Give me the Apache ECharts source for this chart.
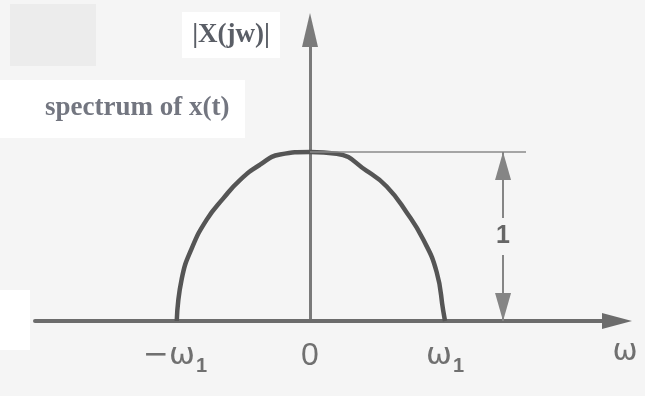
<!DOCTYPE html>
<html>
<head>
<meta charset="utf-8">
<script src="https://cdn.jsdelivr.net/npm/echarts@6/dist/echarts.min.js"></script>
<style>
  html, body { margin: 0; padding: 0; background: #f5f5f5; }
  #chart { width: 645px; height: 396px; }
</style>
</head>
<body>
<div id="chart"></div>
<script>
// Frequency axis in units of ω1, magnitude normalised to the peak value 1
const omega = [-0.987, -0.950, -0.876, -0.765, -0.644, -0.519, -0.370, -0.222, 0, 0.198, 0.420, 0.568, 0.716, 0.839, 0.938, 0.987, 1.0];
const magnitude = [0, 0.250, 0.430, 0.600, 0.724, 0.834, 0.925, 0.985, 1.0, 0.990, 0.888, 0.796, 0.642, 0.482, 0.290, 0.06, 0];

// Tick positions on the ω axis and their labels
const tickValues = [-1, 0, 1];
const tickLabels = { '-1': '{w|−ω}{s|1}', '0': '{z|0}', '1': '{w|ω}{s|1}' };

// Peak level and where its height marker stands
const peakLevel = 1;
const peakLevelLabel = '1';
const guideEnd = 1.6;
const markerAt = 1.43;

const chart = echarts.init(document.getElementById('chart'));

const labelGray = '#707070';

chart.setOption({
  backgroundColor: '#f5f5f5',
  animation: false,
  graphic: [
    { type: 'rect', shape: { x: 10, y: 4, width: 86, height: 62 }, style: { fill: '#ececec' }, z: -10 },
    { type: 'rect', shape: { x: 0, y: 80, width: 245, height: 58 }, style: { fill: '#ffffff' }, z: -10 },
    { type: 'rect', shape: { x: 182, y: 12, width: 98, height: 46 }, style: { fill: '#ffffff' }, z: -10 },
    { type: 'rect', shape: { x: 0, y: 290, width: 30, height: 60 }, style: { fill: '#ffffff' }, z: -10 }
  ],
  title: {
    text: 'spectrum of x(t)',
    left: 40,
    top: 90,
    textStyle: {
      fontFamily: 'Liberation Serif',
      fontWeight: 'bold',
      fontSize: 27,
      color: '#737680'
    }
  },
  grid: { left: 35, right: 28, top: 30, bottom: 75 },
  xAxis: {
    type: 'value',
    min: -2.037,
    max: 2.274,
    name: 'ω',
    nameLocation: 'end',
    nameGap: 8,
    nameTextStyle: {
      fontFamily: 'DejaVu Sans',
      fontSize: 30,
      color: labelGray,
      align: 'center',
      verticalAlign: 'top',
      padding: [16, 0, 0, 0]
    },
    splitLine: { show: false },
    axisTick: { show: false },
    axisLine: {
      lineStyle: { color: '#6c6c6c', width: 4 },
      symbol: ['none', 'triangle'],
      symbolSize: [16, 30]
    },
    axisLabel: {
      customValues: tickValues,
      margin: 18,
      formatter: v => tickLabels[String(v)] || '',
      rich: {
        w: { fontFamily: 'DejaVu Sans', fontSize: 31, color: labelGray, lineHeight: 34 },
        s: { fontFamily: 'Liberation Sans', fontWeight: 'bold', fontSize: 20, color: labelGray, lineHeight: 34, padding: [20, 0, 0, 1] },
        z: { fontFamily: 'Liberation Sans', fontSize: 32, color: labelGray, lineHeight: 34 }
      }
    }
  },
  yAxis: {
    type: 'value',
    min: 0,
    max: 1.722,
    name: '|X(jw)|',
    nameLocation: 'end',
    nameGap: -5,
    nameTextStyle: {
      fontFamily: 'Liberation Serif',
      fontWeight: 'bold',
      fontSize: 27,
      color: '#5a5e66',
      align: 'right',
      verticalAlign: 'middle',
      padding: [0, 40, 0, 0]
    },
    splitLine: { show: false },
    axisTick: { show: false },
    axisLabel: { show: false },
    axisLine: {
      onZero: true,
      lineStyle: { color: '#7a7a7a', width: 3 },
      symbol: ['none', 'triangle'],
      symbolSize: [16, 34]
    }
  },
  series: [
    {
      type: 'line',
      data: omega.map((w, i) => [w, magnitude[i]]),
      smooth: 0.5,
      showSymbol: false,
      lineStyle: { color: '#555555', width: 4.5 },
      z: 3,
      markLine: {
        silent: true,
        animation: false,
        data: [
          [
            { coord: [0, peakLevel], symbol: 'none' },
            { coord: [guideEnd, peakLevel], symbol: 'none' }
          ],
          [
            { coord: [markerAt, peakLevel], symbol: 'triangle', symbolSize: [16, 28], symbolOffset: [0, 14] },
            { coord: [markerAt, 0], symbol: 'triangle', symbolSize: [16, 28], symbolOffset: [0, 14],
              lineStyle: { color: '#858585', width: 2 },
              label: {
                show: true,
                position: 'middle',
                distance: 0,
                align: 'center',
                verticalAlign: 'middle',
                formatter: peakLevelLabel,
                rotate: 0,
                fontFamily: 'Liberation Sans',
                fontWeight: 'bold',
                fontSize: 25,
                color: '#666666',
                backgroundColor: '#f5f5f5',
                padding: [6, 2, 6, 2]
              }
            }
          ]
        ],
        lineStyle: { color: '#8a8a8a', width: 1.5, type: 'solid' },
        label: { show: false }
      }
    }
  ]
});
</script>
</body>
</html>
